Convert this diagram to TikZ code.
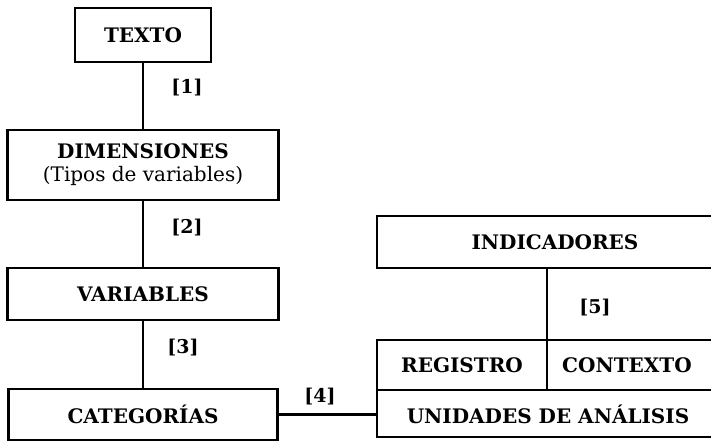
\documentclass[tikz,border=0pt]{standalone}
\usepackage{fontspec}
\setmainfont{DejaVu Serif}
\begin{document}
\begin{tikzpicture}[x=1pt,y=-1pt,
  box/.style={draw,line width=2.2pt,rectangle,inner sep=0pt,font=\fontsize{20}{24}\selectfont\bfseries,align=center},
  lbl/.style={font=\fontsize{20}{24}\selectfont\bfseries},
  num/.style={font=\fontsize{19}{22}\selectfont\bfseries},
  conn/.style={line width=2.2pt}]
\useasboundingbox (0,0) rectangle (711,441);
\clip (0,0) rectangle (711,441);
\node[box,minimum width=136pt,minimum height=54pt] (texto) at (143,35) {TEXTO};
\node[box,minimum width=271pt,minimum height=70pt] (dim) at (143,165) {DIMENSIONES\\[-1pt]{\mdseries(Tipos de variables)}};
\node[box,minimum width=271pt,minimum height=52pt] (var) at (143,294) {VARIABLES};
\node[box,minimum width=269pt,minimum height=51pt] (cat) at (143,414.5) {CATEGORÍAS};
\node[box,minimum width=340pt,minimum height=52pt] (ind) at (547,242) {};
\node[lbl] at (555,242) {INDICADORES};
\node[box,minimum width=170pt,minimum height=50pt] (reg) at (462,365) {REGISTRO};
\node[box,minimum width=170pt,minimum height=50pt] (cont) at (632,365) {};
\node[lbl] at (627,365) {CONTEXTO};
\node[box,minimum width=340pt,minimum height=47pt] (una) at (547,413.5) {};
\node[lbl] at (548,414) {UNIDADES DE ANÁLISIS};
\draw[conn] (texto) -- (dim);
\draw[conn] (dim) -- (var);
\draw[conn] (var) -- (cat);
\draw[conn] (cat.east) -- (cat.east -| una.west);
\draw[conn] (ind.south) -- (ind.south |- reg.north);
\node[num] at (187,88) {[1]};
\node[num] at (187,228) {[2]};
\node[num] at (183,348) {[3]};
\node[num] at (320,397) {[4]};
\node[num] at (595,308) {[5]};
\end{tikzpicture}
\end{document}
